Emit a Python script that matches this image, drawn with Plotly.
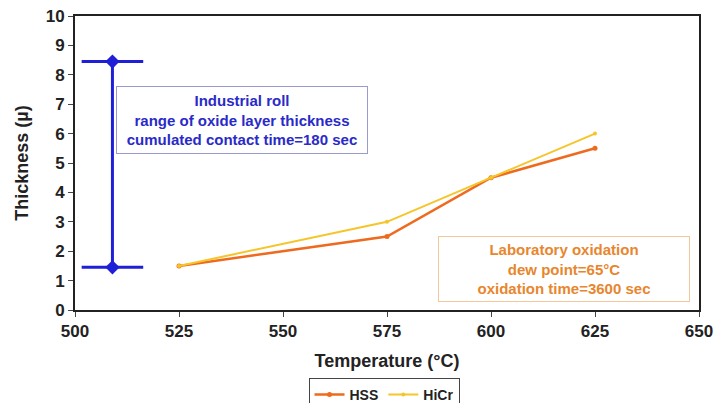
import plotly.graph_objects as go

# Laboratory oxidation results
temperature = [525, 575, 600, 625]
hss_thickness = [1.5, 2.5, 4.5, 5.5]
hicr_thickness = [1.5, 3.0, 4.5, 6.0]

# Industrial roll range of oxide layer thickness
industrial_temp = [509, 509]
industrial_range = [8.45, 1.45]
industrial_cap_halfwidth = [7.4, 7.4]

x_ticks = [500, 525, 550, 575, 600, 625, 650]
y_ticks = list(range(0, 11))

BLUE = "#1F1FD8"
ORANGE = "#EE6A1E"
YELLOW = "#F5C52A"
FONT = "Liberation Sans"

fig = go.Figure()

fig.add_trace(go.Scatter(
    x=industrial_temp, y=industrial_range, mode="lines+markers",
    line=dict(color=BLUE, width=3),
    marker=dict(symbol="diamond", size=11, color=BLUE),
    error_x=dict(type="data", array=industrial_cap_halfwidth, color=BLUE,
                 thickness=3, width=0),
    showlegend=False, hoverinfo="skip",
))

fig.add_trace(go.Scatter(
    x=temperature, y=hss_thickness, mode="lines+markers", name="HSS",
    line=dict(color=ORANGE, width=2.5),
    marker=dict(size=5, color=ORANGE),
))
fig.add_trace(go.Scatter(
    x=temperature, y=hicr_thickness, mode="lines+markers", name="HiCr",
    line=dict(color=YELLOW, width=2),
    marker=dict(size=4, color=YELLOW),
))

fig.add_annotation(
    x=540.2, y=6.45, xref="x", yref="y", showarrow=False,
    text="Industrial roll<br>range of oxide layer thickness<br>cumulated contact time=180 sec",
    font=dict(family=FONT, size=15, color="#2A2AC8", weight="bold"),
    align="center", width=246, height=62, borderpad=2,
    bordercolor="#9A9AD0", borderwidth=1, bgcolor="white",
)
fig.add_annotation(
    x=617.5, y=1.4, xref="x", yref="y", showarrow=False,
    text="Laboratory oxidation<br>dew point=65°C<br>oxidation time=3600 sec",
    font=dict(family=FONT, size=15, color="#E8862E", weight="bold"),
    align="center", width=246, height=60, borderpad=2,
    bordercolor="#F2C79C", borderwidth=1, bgcolor="white",
)

axis_common = dict(
    showgrid=False, zeroline=False, showline=True, linecolor="#222",
    linewidth=2, mirror=True, ticks="outside", ticklen=5, tickcolor="#444",
    automargin=False,
    tickfont=dict(family=FONT, size=17, color="#222", weight="bold"),
)

fig.update_xaxes(
    range=[500, 650], tickvals=x_ticks,
    title=dict(text="Temperature (°C)", standoff=14,
               font=dict(family=FONT, size=18, color="#222", weight="bold")),
    **axis_common,
)
fig.update_yaxes(
    range=[0, 10], tickvals=y_ticks,
    title=dict(text="Thickness (µ)", standoff=12,
               font=dict(family=FONT, size=18, color="#222", weight="bold")),
    **axis_common,
)

fig.update_layout(
    width=715, height=403,
    margin=dict(l=75, r=16, t=16, b=93, autoexpand=False),
    paper_bgcolor="white", plot_bgcolor="white",
    legend=dict(
        orientation="h", x=384 / 715, y=1 - 378 / 403,
        xref="container", yref="container",
        xanchor="center", yanchor="top",
        bordercolor="#444", borderwidth=1, bgcolor="white",
        font=dict(family=FONT, size=14, color="#222", weight="bold"),
        itemwidth=30, tracegroupgap=0,
    ),
)

fig.write_html("out.html")
